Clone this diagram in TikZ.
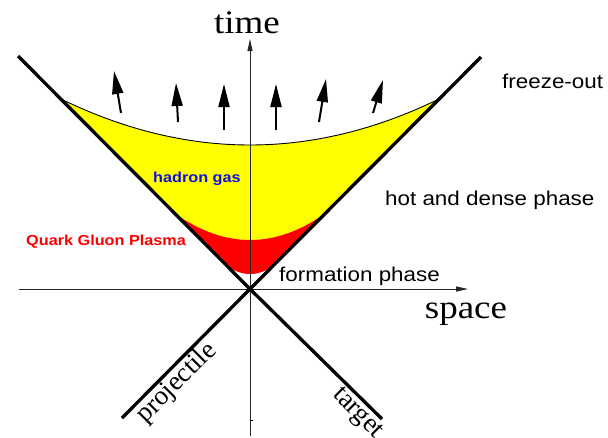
\documentclass[tikz,border=0pt]{standalone}
\usepackage{fontspec}
\usepackage{graphicx}
\setmainfont{Liberation Serif}
\newfontfamily\sansf{Liberation Sans}
\usetikzlibrary{arrows.meta}
\definecolor{qgpred}{RGB}{255,0,0}
\definecolor{hgyellow}{RGB}{255,255,0}
\definecolor{hgblue}{RGB}{16,16,224}
\begin{document}
\begin{tikzpicture}[x=1pt,y=-1pt,
  cone/.style={line width=3.3pt},
  axisline/.style={line width=0.9pt, black!85, -{Triangle[length=12pt,width=5pt]}},
  flow/.style={line width=2pt, -{Triangle[length=23pt,width=11pt]}},
  serif/.style={inner sep=0pt, font=\fontsize{33}{33}\selectfont},
  rotlab/.style={inner sep=0pt, font=\fontsize{27}{27}\selectfont},
  lab/.style={inner sep=0pt, font=\sansf\fontsize{20}{20}\selectfont},
  phase/.style={inner sep=0pt, font=\sansf\bfseries\fontsize{14.5}{14.5}\selectfont},
]
\useasboundingbox (0,0) rectangle (608,437);
\coordinate (O) at (250,289);
% fills
\fill[hgyellow] plot[domain=-191:191, samples=60] ({250+\x},{145-47*(\x/191)*(\x/191)})
  -- plot[domain=76.5:-76.5, samples=40] ({250+\x},{240-27.5*(\x/76.5)*(\x/76.5)}) -- cycle;
\fill[qgpred] plot[domain=-76.5:76.5, samples=40] ({250+\x},{240-27.5*(\x/76.5)*(\x/76.5)})
  -- plot[domain=22.8:-22.8, samples=30] ({250+\x},{274-7.8*(\x/22.8)*(\x/22.8)}) -- cycle;
% freeze-out curve
\draw[line width=0.9pt] plot[domain=-191:191, samples=60] ({250+\x},{145-47*(\x/191)*(\x/191)});
% axes
\coordinate (xs) at (19,289);
\coordinate (xe) at (468,289);
\coordinate (ys) at (250,436);
\coordinate (ye) at (250,39);
\draw[axisline] (xs) -- (xe);
\draw[axisline] (ys) -- (ye);
\coordinate (tk1) at (250,420);
\coordinate (tk2) at (253,420);
\draw[line width=0.6pt] (tk1) -- (tk2);
% light cone
\coordinate (UL) at (18,56);
\coordinate (UR) at (481,57);
\coordinate (LL) at (122,418);
\coordinate (LR) at (382,419);
\draw[cone] (UL) -- (O) -- (LR);
\draw[cone] (UR) -- (O) -- (LL);
% flow arrows
\coordinate (a1s) at (121,113); \coordinate (a1e) at (114,71);
\coordinate (a2s) at (178,122); \coordinate (a2e) at (176,83);
\coordinate (a3s) at (224,130); \coordinate (a3e) at (224,84);
\coordinate (a4s) at (276,130); \coordinate (a4e) at (276,84);
\coordinate (a5s) at (319,122); \coordinate (a5e) at (326,79);
\coordinate (a6s) at (373,113); \coordinate (a6e) at (383,80);
\draw[flow] (a1s) -- (a1e);
\draw[flow] (a2s) -- (a2e);
\draw[flow] (a3s) -- (a3e);
\draw[flow] (a4s) -- (a4e);
\draw[flow] (a5s) -- (a5e);
\draw[flow] (a6s) -- (a6e);
% labels
\node[serif, anchor=base] (time) at (247,33) {\scalebox{1.12}[1]{time}};
\node[serif, anchor=base] (space) at (466,318) {\scalebox{1.12}[1]{space}};
\node[lab, anchor=base west] (fo) at (502,88) {\scalebox{1.12}[1]{freeze-out}};
\node[lab, anchor=base west] (hd) at (385,205) {\scalebox{1.12}[1]{hot and dense phase}};
\node[lab, anchor=base west] (fp) at (279,281) {\scalebox{1.12}[1]{formation phase}};
\node[phase, text=hgblue, anchor=base west] (hg) at (153,182) {\scalebox{1.12}[1]{hadron gas}};
\node[phase, text=qgpred, anchor=base west] (qgp) at (26,245) {\scalebox{1.12}[1]{Quark Gluon Plasma}};
\node[rotlab, rotate=45] (proj) at (177,383) {projectile};
\node[rotlab, rotate=-45] (targ) at (357,414) {target};
\end{tikzpicture}
\end{document}
